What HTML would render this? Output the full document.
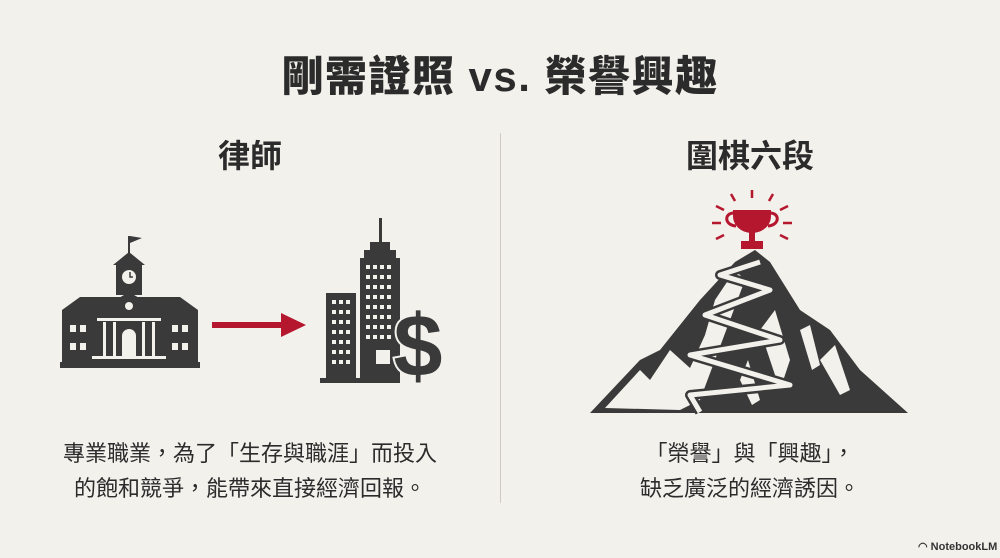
<!DOCTYPE html>
<html><head><meta charset="utf-8"><style>
body{margin:0;width:1000px;height:558px;background:#f3f1ec;font-family:"Liberation Sans","Noto Sans CJK TC",sans-serif;color:#2b2b2b;position:relative;overflow:hidden}
.t{position:absolute;white-space:nowrap;text-align:center}
</style></head><body>
<div class="t" style="left:0;width:1000px;top:43px;font-size:42px;font-weight:900;letter-spacing:1.5px">剛需證照 vs. 榮譽興趣</div>
<div class="t" style="left:150px;width:200px;top:131px;font-size:32px;font-weight:700">律師</div>
<div class="t" style="left:650px;width:200px;top:131px;font-size:32px;font-weight:700">圍棋六段</div>
<div style="position:absolute;left:500px;top:133px;width:1px;height:370px;background:#cfcac2"></div>
<div class="t" style="left:40px;width:420px;top:436px;font-size:22px;line-height:35px">專業職業，為了「生存與職涯」而投入<br>的飽和競爭，能帶來直接經濟回報。</div>
<div class="t" style="left:550px;width:400px;top:436px;font-size:22px;line-height:35px">「榮譽」與「興趣」，<br>缺乏廣泛的經濟誘因。</div>
<div class="t" style="left:918px;top:540px;font-size:11px;font-weight:700;color:#333">◠ NotebookLM</div>
<svg width="1000" height="558" style="position:absolute;left:0;top:0">
<g fill="#3a3a3a">
<rect x="128" y="236" width="2" height="20"/><polygon points="130,236 142,238 130,243"/>
<polygon points="113,265 129,252 145,265"/>
<rect x="116" y="265" width="26" height="30"/>
<polygon points="62,310 80,297 180,297 198,310"/>
<rect x="62" y="310" width="136" height="55"/>
<polygon points="90,315 129,292 168,315"/>
<rect x="60" y="362" width="140" height="6"/>
</g>
<g fill="#f3f1ec">
<circle cx="129" cy="277" r="7"/><circle cx="129" cy="306" r="4"/>
<rect x="70" y="325" width="6" height="7"/><rect x="80" y="325" width="6" height="7"/><rect x="70" y="343" width="6" height="7"/><rect x="80" y="343" width="6" height="7"/>
<rect x="172" y="325" width="6" height="7"/><rect x="182" y="325" width="6" height="7"/><rect x="172" y="343" width="6" height="7"/><rect x="182" y="343" width="6" height="7"/>
<rect x="97" y="318" width="64" height="3"/>
<rect x="103" y="322" width="3" height="34"/><rect x="113" y="322" width="3" height="34"/><rect x="142" y="322" width="3" height="34"/><rect x="152" y="322" width="3" height="34"/>
<path d="M122 356v-20a7 7 0 0 1 14 0v20z"/>
<rect x="92" y="356" width="74" height="3"/>
</g>
<path d="M130 272v5h3" stroke="#3a3a3a" stroke-width="1.5" fill="none"/>
<rect x="212" y="322" width="70" height="6" fill="#b5172f"/>
<polygon points="281,313 306,325 281,337" fill="#b5172f"/>
<g fill="#3a3a3a">
<rect x="379" y="218" width="3" height="25"/>
<rect x="370" y="242" width="20" height="8"/><rect x="364" y="250" width="32" height="8"/>
<rect x="360" y="258" width="40" height="122"/>
<rect x="326" y="293" width="30" height="87"/>
<rect x="320" y="378" width="80" height="5"/>
</g>
<g fill="#f3f1ec">
<g id="w"><rect x="332" y="300" width="4" height="4"/><rect x="339" y="300" width="4" height="4"/><rect x="346" y="300" width="4" height="4"/></g>
<use href="#w" y="10"/><use href="#w" y="20"/><use href="#w" y="30"/><use href="#w" y="40"/><use href="#w" y="50"/><use href="#w" y="60"/>
<g id="v"><rect x="366" y="265" width="4" height="4"/><rect x="373" y="265" width="4" height="4"/><rect x="380" y="265" width="4" height="4"/><rect x="387" y="265" width="4" height="4"/></g>
<use href="#v" y="10"/><use href="#v" y="20"/><use href="#v" y="30"/><use href="#v" y="40"/><use href="#v" y="50"/><use href="#v" y="60"/><use href="#v" y="70"/>
<rect x="376" y="350" width="14" height="14"/>
</g>
<text x="418" y="376" font-size="88" font-weight="700" fill="#3a3a3a" text-anchor="middle" stroke="#f3f1ec" stroke-width="4" paint-order="stroke" font-family="Liberation Sans">$</text>
<polygon points="590,413 640,360 660,350 700,300 735,262 755,250 770,262 800,310 830,330 860,370 908,413" fill="#3a3a3a"/>
<g fill="#f3f1ec">
<polygon points="605,408 640,370 650,380 670,350 690,368 705,335 715,300 735,270 745,280 730,320 715,360 700,400 680,410"/>
<polygon points="760,330 775,310 790,360 780,390"/>
<polygon points="820,360 835,345 850,390 840,395"/>
<polygon points="800,330 810,325 820,365 812,370"/>
<polygon points="740,380 748,360 760,400 752,405"/>
</g>
<path d="M700 412 L690 395 L790 385 L690 355 L780 340 L705 315 L770 290 L720 275 L760 262" stroke="#3a3a3a" stroke-width="10" fill="none" stroke-linejoin="round"/>
<path d="M700 412 L690 395 L790 385 L690 355 L780 340 L705 315 L770 290 L720 275 L760 262" stroke="#f3f1ec" stroke-width="5" fill="none" stroke-linejoin="round"/>
<g fill="#b5172f">
<path d="M733 210h38v6c0 10-9 17-19 17s-19-7-19-17z"/>
<path d="M734 213c-10 0-10 12 2 13" stroke="#b5172f" stroke-width="3" fill="none"/>
<path d="M770 213c10 0 10 12-2 13" stroke="#b5172f" stroke-width="3" fill="none"/>
<rect x="749" y="232" width="6" height="10"/><rect x="741" y="241" width="22" height="8"/>
</g>
<g stroke="#b5172f" stroke-width="2.5">
<line x1="752" y1="190" x2="752" y2="198"/><line x1="731" y1="194" x2="735" y2="201"/><line x1="773" y1="194" x2="769" y2="201"/>
<line x1="716" y1="206" x2="724" y2="210"/><line x1="788" y1="206" x2="780" y2="210"/>
<line x1="712" y1="223" x2="721" y2="223"/><line x1="792" y1="223" x2="783" y2="223"/>
<line x1="716" y1="239" x2="724" y2="235"/><line x1="788" y1="239" x2="780" y2="235"/>
</g>
</svg>
</body></html>
